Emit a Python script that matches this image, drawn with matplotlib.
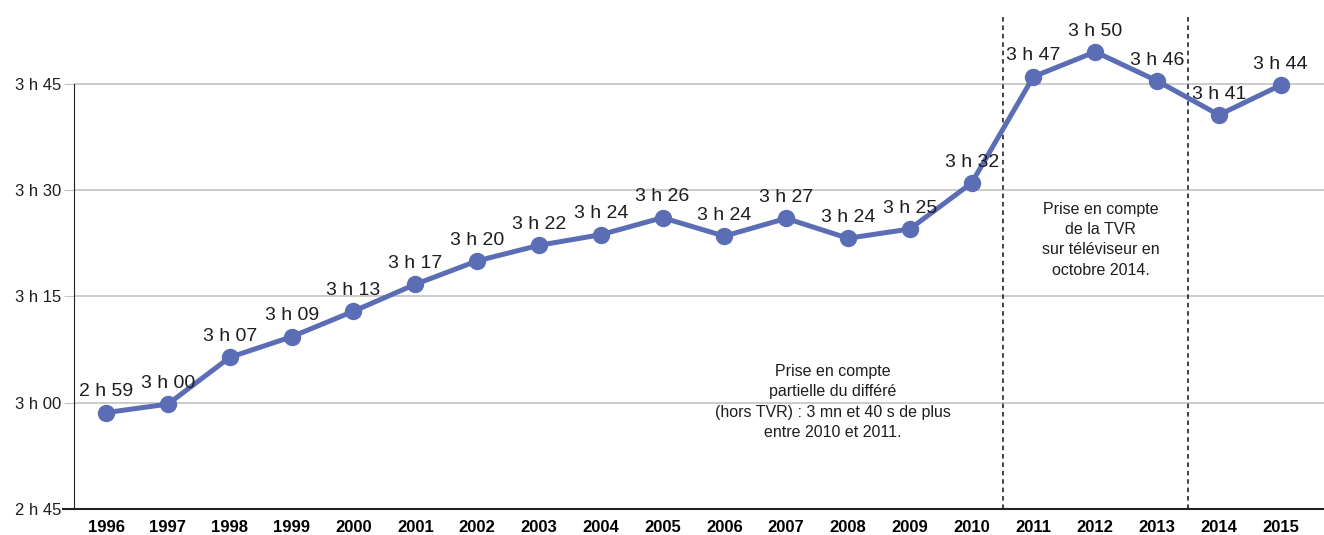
import matplotlib
matplotlib.use("Agg")
import matplotlib.pyplot as plt
from matplotlib import font_manager

# Police étroite si disponible
noms = {f.name for f in font_manager.fontManager.ttflist}
police = "Liberation Sans Narrow" if "Liberation Sans Narrow" in noms else "Liberation Sans"
plt.rcParams['font.family'] = [police, 'DejaVu Sans']

# Données (durée d'écoute en minutes)
annees = list(range(1996, 2016))
minutes = [178.6, 179.8, 186.4, 189.3, 192.9, 196.7, 200.0, 202.2, 203.7, 206.1,
           203.5, 206.0, 203.2, 204.5, 211.0, 226.0, 229.5, 225.4, 220.6, 224.8]
etiquettes = ["2 h 59", "3 h 00", "3 h 07", "3 h 09", "3 h 13", "3 h 17", "3 h 20",
              "3 h 22", "3 h 24", "3 h 26", "3 h 24", "3 h 27", "3 h 24", "3 h 25",
              "3 h 32", "3 h 47", "3 h 50", "3 h 46", "3 h 41", "3 h 44"]
graduations = [165, 180, 195, 210, 225]
graduations_txt = ["2 h 45", "3 h 00", "3 h 15", "3 h 30", "3 h 45"]
ruptures = [2010.5, 2013.5]

couleur = "#5b6db5"
texte = "#1e1e1e"

fig = plt.figure(figsize=(13.24, 5.35), dpi=100)
ax = fig.add_axes([0.0559, 0.0486, 0.9441, 0.9234])

ax.set_xlim(1995.48, 2015.7)
ax.set_ylim(165, 234.7)

for g in graduations[1:]:
    ax.axhline(g, color="#c4c4c4", lw=1.2, zorder=1)

for r in ruptures:
    ax.axvline(r, color="#111111", lw=1.1, ls=(0, (3, 2.5)), zorder=2)

ax.plot(annees, minutes, color=couleur, lw=3.6, marker='o', markersize=11.5, zorder=3)

for x, y, t in zip(annees, minutes, etiquettes):
    ax.annotate(t, (x, y), xytext=(0, 15), textcoords="offset points",
                ha="center", va="center", fontsize=14, color=texte)

ax.text(2007.75, 180.1, "Prise en compte\npartielle du différé\n(hors TVR) : 3 mn et 40 s de plus\nentre 2010 et 2011.",
        ha="center", va="center", fontsize=11.5, color=texte, linespacing=1.45)
ax.text(2012.09, 203.0, "Prise en compte\nde la TVR\nsur téléviseur en\noctobre 2014.",
        ha="center", va="center", fontsize=11.5, color=texte, linespacing=1.45)

ax.set_xticks(annees)
ax.set_xticklabels([str(a) for a in annees], fontweight="bold", fontsize=12)
ax.set_yticks(graduations)
ax.set_yticklabels(graduations_txt, fontsize=12, color=texte)
ax.tick_params(axis="x", length=0, pad=8)
ax.tick_params(axis="y", length=7, color="#c4c4c4", pad=2)

ax.spines["top"].set_visible(False)
ax.spines["right"].set_visible(False)
ax.spines["left"].set_color("#222222")
ax.spines["left"].set_bounds(165, 225)
ax.spines["bottom"].set_color("#222222")
ax.spines["bottom"].set_linewidth(1.5)
ax.spines["bottom"].set_bounds(1995.3, 2015.7)

fig.savefig("out.png", dpi=100)
